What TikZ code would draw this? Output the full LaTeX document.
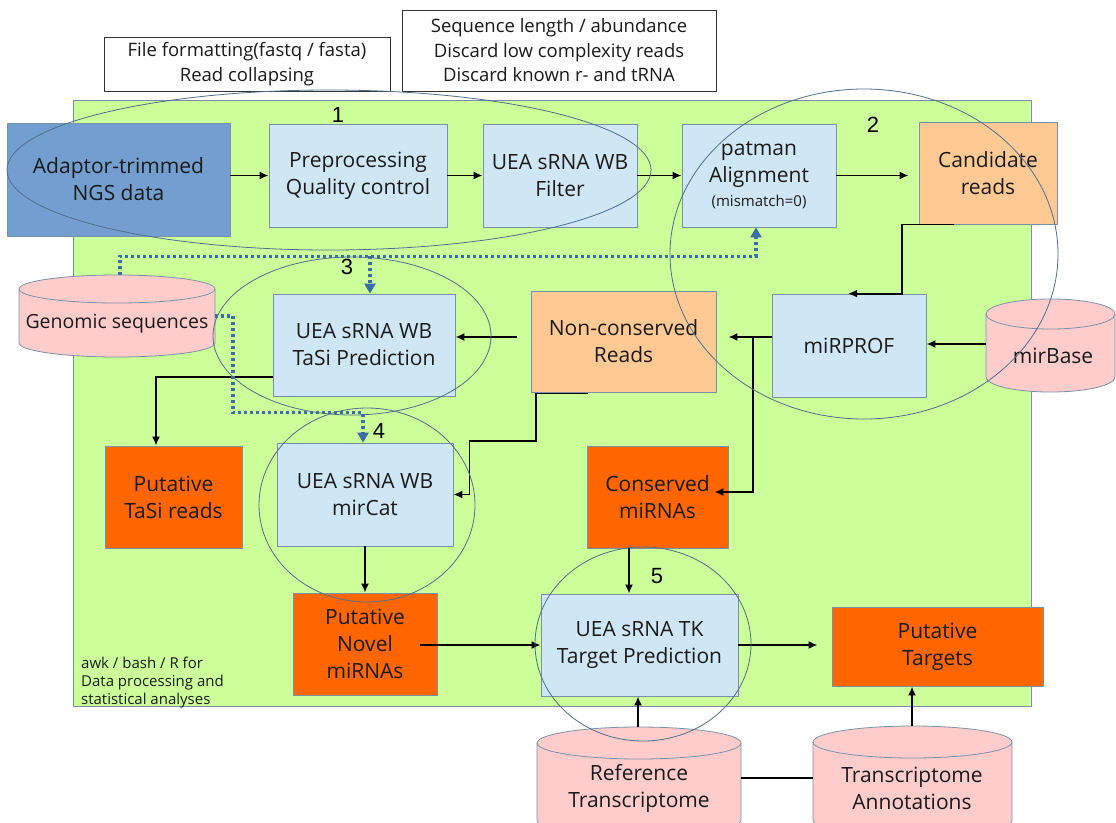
\documentclass[tikz,border=0pt]{standalone}
\usepackage{fontspec}
\setmainfont{Open Sans}
\newfontfamily\numfont{Liberation Sans}
\usetikzlibrary{arrows.meta,calc}
\definecolor{bgc}{HTML}{CCFF99}
\definecolor{adaptc}{HTML}{729FCF}
\definecolor{lbluec}{HTML}{CFE7F5}
\definecolor{lorc}{HTML}{FFC993}
\definecolor{dorc}{HTML}{FF6600}
\definecolor{pinkc}{HTML}{FFCCCC}
\definecolor{bordc}{HTML}{7A92A8}
\definecolor{ellc}{HTML}{4F6F8F}
\definecolor{dotc}{HTML}{3C6EA6}
\definecolor{txtc}{HTML}{1A1A1A}
\newcommand{\dbcyl}[5]{%
  \pgfmathsetmacro{\cylrx}{(#2-#1)/2}%
  \pgfmathsetmacro{\cylym}{#3+#5}%
  \filldraw[cylst] (#1,\cylym) -- (#1,#4) arc[start angle=180,end angle=360,x radius=\cylrx pt,y radius=#5 pt] -- (#2,\cylym) arc[start angle=0,end angle=180,x radius=\cylrx pt,y radius=#5 pt] -- cycle;
  \draw[cylline] (#1,\cylym) arc[start angle=180,end angle=360,x radius=\cylrx pt,y radius=#5 pt];
}
\tikzset{
  box/.style={draw=bordc, line width=0.8pt, inner sep=0pt, align=center, text=txtc,
    font=\fontsize{21}{27}\selectfont},
  dblue/.style={box, fill=adaptc},
  lblue/.style={box, fill=lbluec},
  lorange/.style={box, fill=lorc},
  dorange/.style={box, fill=dorc},
  tbox/.style={draw=black!80, line width=0.9pt, fill=white, inner sep=0pt, align=center,
    text=txtc, font=\fontsize{18.5}{24.5}\selectfont},
  cyltxt/.style={inner sep=0pt, align=center, text=txtc, font=\fontsize{21}{27}\selectfont},
  cylst/.style={draw=bordc, fill=pinkc, line width=0.8pt},
  cylline/.style={draw=bordc, line width=0.8pt},
  arr/.style={-{Latex[length=9pt,width=8pt]}, line width=1.8pt, black},
  plain/.style={line width=1.8pt, black},
  dotline/.style={draw=dotc, line width=3.5pt, dash pattern=on 3pt off 3pt},
  dotarr/.style={dotline, -{Triangle[length=10pt,width=11pt]}},
  grp/.style={draw=ellc, line width=0.8pt},
  num/.style={inner sep=0pt, font=\numfont\fontsize{22}{22}\selectfont},
}
\begin{document}
\begin{tikzpicture}[x=1pt,y=-1pt]
\useasboundingbox (0,0) rectangle (1116,822);
% background
\fill[white] (0,0) rectangle (1116,822);
\draw[draw=bordc, fill=bgc, line width=0.8pt] (73,100) rectangle (1031,706);

% text boxes
\node[tbox, minimum width=286pt, minimum height=54pt] (tb1) at (247,64) {File formatting(fastq / fasta)\\Read collapsing};
\node[tbox, minimum width=314pt, minimum height=81pt] (tb2) at (559,50.5) {Sequence length / abundance\\Discard low complexity reads\\Discard known r- and tRNA};

% main boxes
\node[dblue, minimum width=223pt, minimum height=113pt] (adapt) at (118.5,179.5) {Adaptor-trimmed\\NGS data};
\node[lblue, minimum width=178pt, minimum height=103pt] (pre) at (358,175.5) {Preprocessing\\Quality control};
\node[lblue, minimum width=154pt, minimum height=103pt] (filt) at (560,175.5) {UEA sRNA WB\\Filter};
\node[lblue, minimum width=154pt, minimum height=103pt] (pat) at (759,175.5) {patman\\Alignment\\[-3pt]{\fontsize{15}{18}\selectfont (mismatch=0)}};
\node[lorange, minimum width=138pt, minimum height=102pt] (cand) at (988,173) {Candidate\\reads};
\node[lblue, minimum width=182pt, minimum height=102pt] (tasi) at (364,345) {UEA sRNA WB\\TaSi Prediction};
\node[lorange, minimum width=185pt, minimum height=101pt] (nonc) at (623.5,341.5) {Non-conserved\\Reads};
\node[lblue, minimum width=154pt, minimum height=103pt] (mirprof) at (849,345.5) {miRPROF};
\node[dorange, minimum width=137pt, minimum height=102pt] (ptasi) at (173.5,497) {Putative\\TaSi reads};
\node[lblue, minimum width=176pt, minimum height=103pt] (mircat) at (365,494.5) {UEA sRNA WB\\mirCat};
\node[dorange, minimum width=141pt, minimum height=102pt] (cons) at (657.5,497) {Conserved\\miRNAs};
\node[dorange, minimum width=144pt, minimum height=102pt] (novel) at (365,644) {Putative\\Novel\\miRNAs};
\node[lblue, minimum width=197pt, minimum height=102pt] (targ) at (639.5,645) {UEA sRNA TK\\Target Prediction};
\node[dorange, minimum width=211pt, minimum height=79pt] (ptarg) at (937.5,646.5) {Putative\\Targets};

% cylinders
\dbcyl{19}{215}{275}{343}{14}
\node[cyltxt, font=\fontsize{19.5}{24}\selectfont] (gen) at (117,324) {Genomic sequences};
\dbcyl{986}{1115}{299}{377}{15}
\node[cyltxt] (mirb) at (1053,356) {mirBase};
\dbcyl{537}{741}{727}{820}{16}
\node[cyltxt] (ref) at (639,788) {Reference\\Transcriptome};
\dbcyl{813}{1012}{726}{820}{16}
\node[cyltxt] (annot) at (912,788) {Transcriptome\\Annotations};

\coordinate (gentop) at (120,275);
\coordinate (genr) at (215,316);
\coordinate (mirbw) at (986,344);
\coordinate (reftop) at (638,727);
\coordinate (refr) at (741,778);
\coordinate (annl) at (813,778);
\coordinate (anntop) at (912,726);

% black connectors
\draw[arr] (adapt.east |- pre.west) -- (pre.west);
\draw[arr] (pre.east) -- (filt.west);
\draw[arr] (filt.east) -- (pat.west);
\draw[arr, shorten >=10pt] (pat.east) -- (pat.east -| cand.west);
\draw[arr] ($(cand.south west)+(35,0)$) -| ($(mirprof.north)+(53,0)$) -- ($(mirprof.north)+(-1,0)$);
\draw[arr] (mirbw) -- (mirbw -| mirprof.east);
\coordinate (m1) at ($(mirprof.west)+(0,-8.5)$);
\draw[arr, shorten >=12pt] (m1) -- (m1 -| nonc.east);
\draw[arr] ($(m1)+(-19,0)$) |- ($(cons.east)+(-14,-5)$);
\coordinate (n1) at ($(nonc.west)+(-14,-4.5)$);
\draw[arr] (n1) -- (n1 -| tasi.east);
\draw[arr] ($(tasi.west)+(0,32)$) -| ($(ptasi.north)+(-17.5,0)$);
\draw[arr] ($(nonc.south west)+(57,1)$) -- ($(nonc.south west)+(5,1)$) |- ($(mircat.east)+(16,-53.5)$) |- (mircat.east);
\draw[arr] (mircat.south) -- (novel.north);
\draw[arr] ($(novel.east)+(-17,1)$) -- ($(novel.east -| targ.west)+(0,1)$);
\coordinate (c5) at ($(cons.south)+(-28.5,0)$);
\draw[arr] (c5) -- (c5 |- targ.north);
\draw[arr, shorten >=14pt] (targ.east) -- (targ.east -| ptarg.west);
\draw[arr] (reftop) -- (reftop |- targ.south);
\draw[arr] (anntop) -- (anntop |- ptarg.south);
\draw[plain] (refr) -- (annl);

% dotted connectors
\coordinate (dl) at ($(pat.south)+(-3,29)$);
\draw[dotarr] (gentop) |- (dl) -- (dl |- pat.south);
\draw[dotarr] ($(tasi.north)+(6,-38)$) -- ($(tasi.north)+(6,0)$);
\draw[dotarr] (genr) -- ++(18,0) |- ($(mircat.north)+(-2,-30)$) -- ($(mircat.north)+(-2,0)$);

% group ellipses
\draw[grp] (329,170) ellipse [x radius=322pt, y radius=80pt];
\draw[grp] (864,254) ellipse [x radius=194pt, y radius=165pt];
\draw[grp] (352,336) ellipse [x radius=139pt, y radius=79pt];
\draw[grp] (367,505) ellipse [x radius=108pt, y radius=97pt];
\draw[grp] (643,644) ellipse [x radius=108pt, y radius=97pt];

% numbers
\node[num] (n1lab) at (338,115) {1};
\node[num] (n2lab) at (873,125) {2};
\node[num] (n3lab) at (347,267) {3};
\node[num] (n4lab) at (379,431) {4};
\node[num] (n5lab) at (657,576) {5};

% note
\node[anchor=north west, inner sep=0pt, align=left, text=txtc, font=\fontsize{15}{18}\selectfont] (note) at (81,657) {awk / bash / R for\\Data processing and\\statistical analyses};
\end{tikzpicture}
\end{document}
